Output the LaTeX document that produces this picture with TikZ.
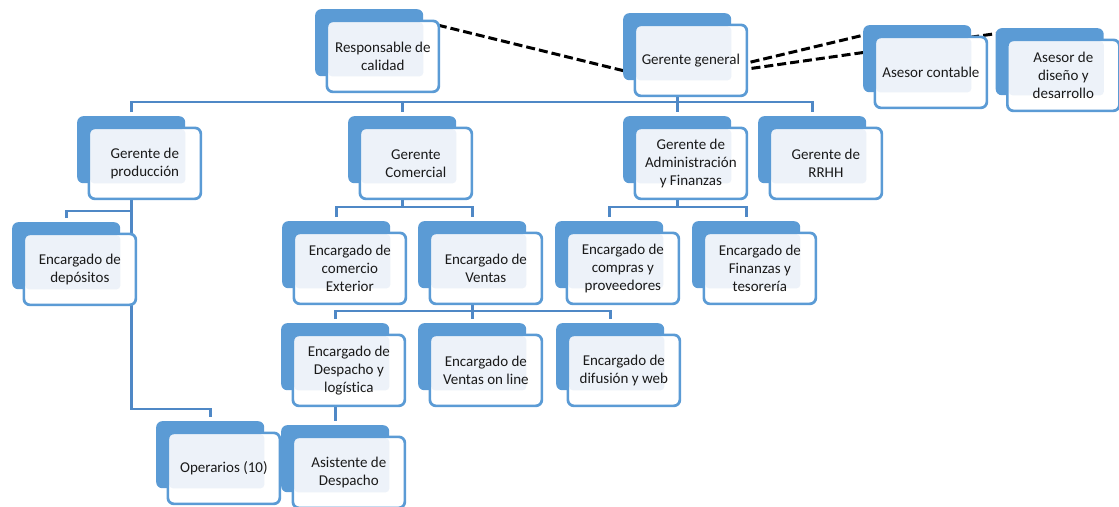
\documentclass[tikz,border=0pt]{standalone}
\usepackage{fontspec}
\setmainfont{Carlito}[Ligatures={NoCommon,NoRare}]
\usetikzlibrary{calc}
\pgfdeclarelayer{background}
\pgfsetlayers{background,main}

\definecolor{boxblue}{HTML}{5B9BD5}
\definecolor{linkblue}{HTML}{4F88C6}
\definecolor{paleblue}{HTML}{EDF2F9}
\definecolor{labelgray}{HTML}{1A1A1A}

\tikzset{
  backbox/.style={rectangle, rounded corners=6pt, fill=boxblue,
    minimum width=108pt, minimum height=67pt, inner sep=0pt},
  frontbox/.style={rectangle, rounded corners=6pt, draw=boxblue, line width=2.7pt,
    fill=white, minimum width=112pt, minimum height=71pt, inner sep=0pt,
    align=center, text=labelgray, font=\fontsize{15}{18}\selectfont},
  link/.style={draw=linkblue, line width=2.8pt},
  tie/.style={draw=black, line width=3pt, dash pattern=on 9pt off 4pt}
}

% one unit of the chart: blue back card, white front card with a pale
% panel where the two overlap, and the label on top
\newcommand\orgunit[4]{%
  \node[backbox, anchor=north west] (#1-bk) at (#2,#3) {};
  \node[frontbox, anchor=north west,
    path picture={\fill[paleblue, rounded corners=4pt]
      ([shift={(1.35pt,-1.35pt)}]path picture bounding box.north west)
      rectangle (#1-bk.south east);}]
    (#1) at ([shift={(10.5pt,-10.5pt)}]#1-bk.north west) {#4};
}

\begin{document}
\begin{tikzpicture}[x=1pt,y=-1pt]
\useasboundingbox (0,0) rectangle (1119,506);

% top level
\orgunit{cal}{315}{9}{Responsable de\\calidad}
\orgunit{gg}{623}{13}{Gerente general}
\orgunit{acont}{863}{25}{Asesor contable}
\orgunit{adis}{995.5}{28}{Asesor de\\diseño y\\desarrollo}

% managers
\orgunit{gprod}{77}{116}{Gerente de\\producción}
\orgunit{gcom}{348}{116}{Gerente\\Comercial}
\orgunit{gadm}{623}{116}{Gerente de\\Administración\\y Finanzas}
\orgunit{grrhh}{758}{116}{Gerente de\\RRHH}

% second level
\orgunit{edep}{12}{222}{Encargado de\\depósitos}
\orgunit{ecom}{282}{221}{Encargado de\\comercio\\Exterior}
\orgunit{event}{418}{221}{Encargado de\\Ventas}
\orgunit{ecomp}{555}{221}{Encargado de\\compras y\\proveedores}
\orgunit{efin}{692}{221}{Encargado de\\Finanzas y\\tesorería}

% third level
\orgunit{edesp}{281}{323}{Encargado de\\Despacho y\\logística}
\orgunit{eonl}{418}{323}{Encargado de\\Ventas on line}
\orgunit{edif}{556}{323}{Encargado de\\difusión y web}

% bottom
\orgunit{oper}{156}{421}{Operarios (10)}
\orgunit{asist}{281}{425}{Asistente de\\Despacho}

% rails of the brackets
\coordinate (bus) at (0,102);
\coordinate (prodrow) at (0,211);
\coordinate (comrow) at (0,207);
\coordinate (venrow) at (0,311);
\coordinate (operturn) at (0,409);

% ends of the dashed advisory links
\coordinate (cal-tie) at (400,15.8);
\coordinate (gg-tie-a) at (680,84.6);
\coordinate (gg-tie-b) at (700,74.2);
\coordinate (acont-tie) at (880,31.2);
\coordinate (gg-tie-c) at (700,75.7);
\coordinate (adis-tie) at (1020,30.2);

\begin{pgfonlayer}{background}
  % main bus under the general manager
  \draw[link] ([yshift=4pt]gprod-bk.north) |- (grrhh-bk.north |- bus)
              -- ([yshift=4pt]grrhh-bk.north);
  \draw[link] (gcom-bk.north |- bus) -- ([yshift=4pt]gcom-bk.north);
  \draw[link] (gg-bk.center) -- ([yshift=4pt]gadm-bk.north);

  % production
  \draw[link] (gprod-bk.center) -- (gprod-bk.center |- operturn)
              -| ([yshift=4pt]oper-bk.north);
  \draw[link] ([yshift=4pt]edep-bk.north) |- (gprod-bk.center |- prodrow);

  % commercial
  \draw[link] (gcom-bk.center) -- (gcom-bk.center |- comrow);
  \draw[link] ([yshift=4pt]ecom-bk.north) |- (event-bk.north |- comrow)
              -- ([yshift=4pt]event-bk.north);

  % administration
  \draw[link] (gadm-bk.center) -- (gadm-bk.center |- comrow);
  \draw[link] ([yshift=4pt]ecomp-bk.north) |- (efin-bk.north |- comrow)
              -- ([yshift=4pt]efin-bk.north);

  % sales
  \draw[link] (event-bk.center) -- ([yshift=4pt]eonl-bk.north);
  \draw[link] ([yshift=4pt]edesp-bk.north) |- (edif-bk.north |- venrow)
              -- ([yshift=4pt]edif-bk.north);

  % dispatch
  \draw[link] (asist-bk.north |- edesp-bk.center) -- ([yshift=4pt]asist-bk.north);

  % staff positions
  \draw[tie] (cal-tie) -- (gg-tie-a);
  \draw[tie] (gg-tie-b) -- (acont-tie);
  \draw[tie] (gg-tie-c) -- (adis-tie);
\end{pgfonlayer}
\end{tikzpicture}
\end{document}
